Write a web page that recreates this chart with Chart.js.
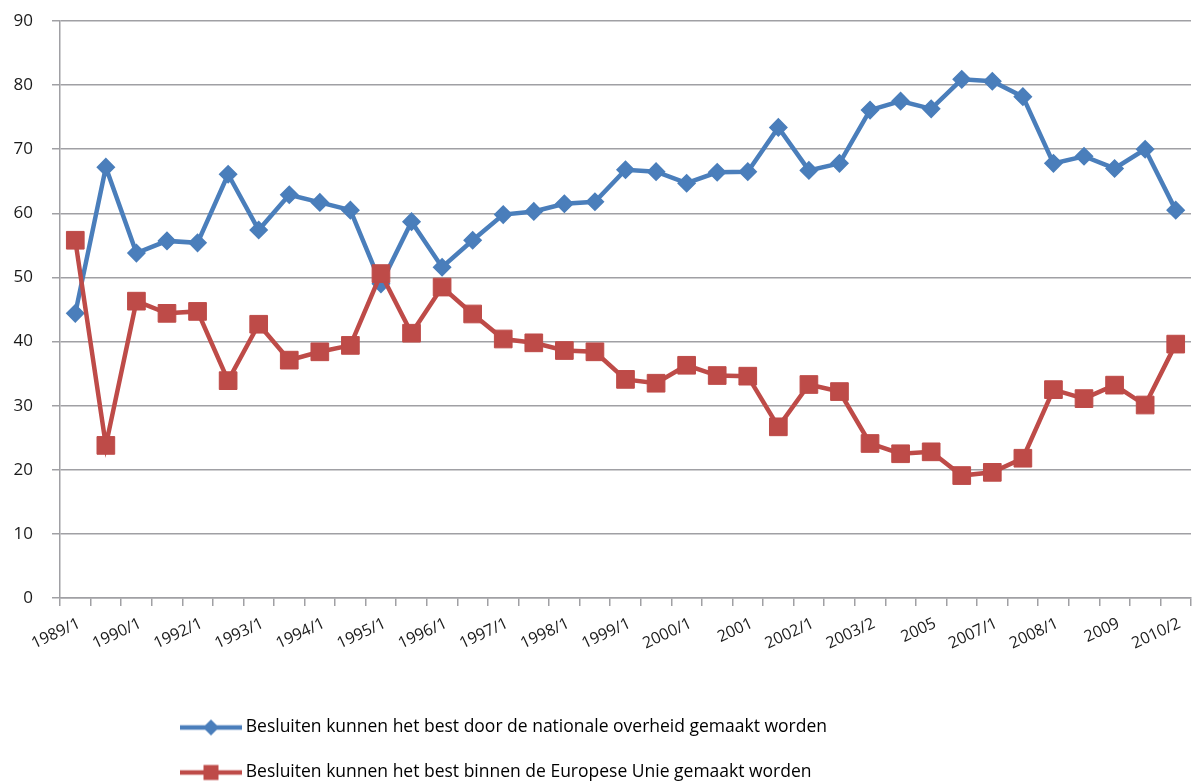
<!DOCTYPE html>
<html><head><meta charset="utf-8">
<script src="https://cdn.jsdelivr.net/npm/chart.js@4"></script>
<style>html,body{margin:0;padding:0;background:#fff;overflow:hidden}#wrap{width:1192px;height:784px;position:relative}</style>
</head><body><div id="wrap"><canvas id="c" width="1192" height="784"></canvas></div>
<script>
const tickLabels = ['1989/1','1990/1','1992/1','1993/1','1994/1','1995/1','1996/1','1997/1','1998/1','1999/1','2000/1','2001','2002/1','2003/2','2005','2007/1','2008/1','2009','2010/2'];
// 37 survey waves; only every other wave is labelled on the axis
const categories = [];
tickLabels.forEach((t, i) => { categories.push(t); if (i < tickLabels.length - 1) categories.push(''); });

const nationalLabel = 'Besluiten kunnen het best door de nationale overheid gemaakt worden';
const europeanLabel = 'Besluiten kunnen het best binnen de Europese Unie gemaakt worden';

const national = [44.4,67.2,53.8,55.7,55.4,66.1,57.4,62.9,61.7,60.5,
                  49.0,58.7,51.6,55.8,59.8,60.3,61.5,61.8,66.8,66.5,
                  64.7,66.4,66.5,73.4,66.7,67.8,76.1,77.5,76.3,80.9,
                  80.6,78.2,67.8,68.9,67.0,70.0,60.5];
const european = [55.8,23.8,46.3,44.4,44.7,33.9,42.7,37.1,38.4,39.4,
                  50.6,41.3,48.5,44.3,40.4,39.8,38.6,38.4,34.1,33.5,
                  36.3,34.7,34.6,26.7,33.3,32.2,24.1,22.5,22.8,19.1,
                  19.6,21.8,32.5,31.1,33.2,30.1,39.6];

const BLUE = '#4A7EBB', RED = '#BE4B48', GRID = '#A0A0A4', TEXT = '#1a1a1a';
const FONT = 'Open Sans, sans-serif';
const LEG_FS = 17.5, LEG_PAD = 27.5;

function legendIcon(color, shape) {
  const c = document.createElement('canvas');
  c.width = 62; c.height = 20;
  const g = c.getContext('2d');
  g.strokeStyle = color; g.lineWidth = 4.5;
  g.beginPath(); g.moveTo(0, 10); g.lineTo(62, 10); g.stroke();
  g.fillStyle = color;
  g.beginPath();
  if (shape === 'diamond') { g.moveTo(31, 2); g.lineTo(39, 10); g.lineTo(31, 18); g.lineTo(23, 10); g.closePath(); }
  else { g.rect(23.5, 2.5, 15, 15); }
  g.fill();
  return c;
}
const icons = [legendIcon(BLUE, 'diamond'), legendIcon(RED, 'square')];

const legendPlacer = {
  id: 'legendPlacer',
  afterLayout(chart) {
    const lg = chart.legend;
    lg.left = 185 - LEG_PAD;
    lg.right = 1192;
    lg.width = lg.right - lg.left;
    lg.top = 727.5 - LEG_PAD - LEG_FS / 2;
    lg.bottom = 784;
    lg.height = lg.bottom - lg.top;
  }
};

new Chart(document.getElementById('c'), {
  type: 'line',
  data: {
    labels: categories,
    datasets: [
      { label: nationalLabel, data: national, borderColor: BLUE, backgroundColor: BLUE,
        borderWidth: 4.5, pointStyle: 'rectRot', pointRadius: 8.5, pointBorderWidth: 1.5,
        pointBackgroundColor: BLUE, pointBorderColor: BLUE, tension: 0, order: 2 },
      { label: europeanLabel, data: european, borderColor: RED, backgroundColor: RED,
        borderWidth: 4.5, pointStyle: 'rect', pointRadius: 12.5, pointBorderWidth: 1,
        pointBackgroundColor: RED, pointBorderColor: RED, tension: 0, order: 1 }
    ]
  },
  options: {
    responsive: false,
    animation: false,
    devicePixelRatio: 1,
    layout: { autoPadding: false, padding: { top: 21, right: 0, left: 0, bottom: 0 } },
    plugins: {
      tooltip: { enabled: false },
      title: { display: false },
      legend: {
        position: 'bottom',
        align: 'start',
        labels: {
          usePointStyle: true,
          pointStyleWidth: 52,
          padding: LEG_PAD,
          color: TEXT,
          font: { family: FONT, size: LEG_FS },
          generateLabels: (chart) => chart.data.datasets.map((ds, i) => ({
            text: ds.label, fillStyle: ds.borderColor, strokeStyle: ds.borderColor,
            pointStyle: icons[i], lineWidth: 0, hidden: false, datasetIndex: i
          }))
        }
      }
    },
    scales: {
      x: {
        offset: true,
        grid: { offset: true, drawOnChartArea: false, drawTicks: true, tickLength: 8, color: GRID, lineWidth: 1.5 },
        border: { color: GRID, width: 1.5 },
        ticks: { autoSkip: false, minRotation: 25, maxRotation: 25, padding: 8, labelOffset: 4, color: TEXT, font: { family: FONT, size: 16 } },
        afterFit: (s) => { s.height = 784 - 598 - s.chart.legend.height; s.paddingRight = 1; s.paddingLeft = 0; }
      },
      y: {
        min: 0, max: 90,
        ticks: { stepSize: 10, padding: 19, color: TEXT, font: { family: FONT, size: 17 } },
        grid: { color: GRID, lineWidth: 1.5, tickLength: 8 },
        border: { color: GRID, width: 1.5 },
        afterFit: (s) => { s.width = 60; s.paddingTop = 0; s.paddingBottom = 0; }
      }
    }
  },
  plugins: [legendPlacer]
});
</script>
</body></html>
